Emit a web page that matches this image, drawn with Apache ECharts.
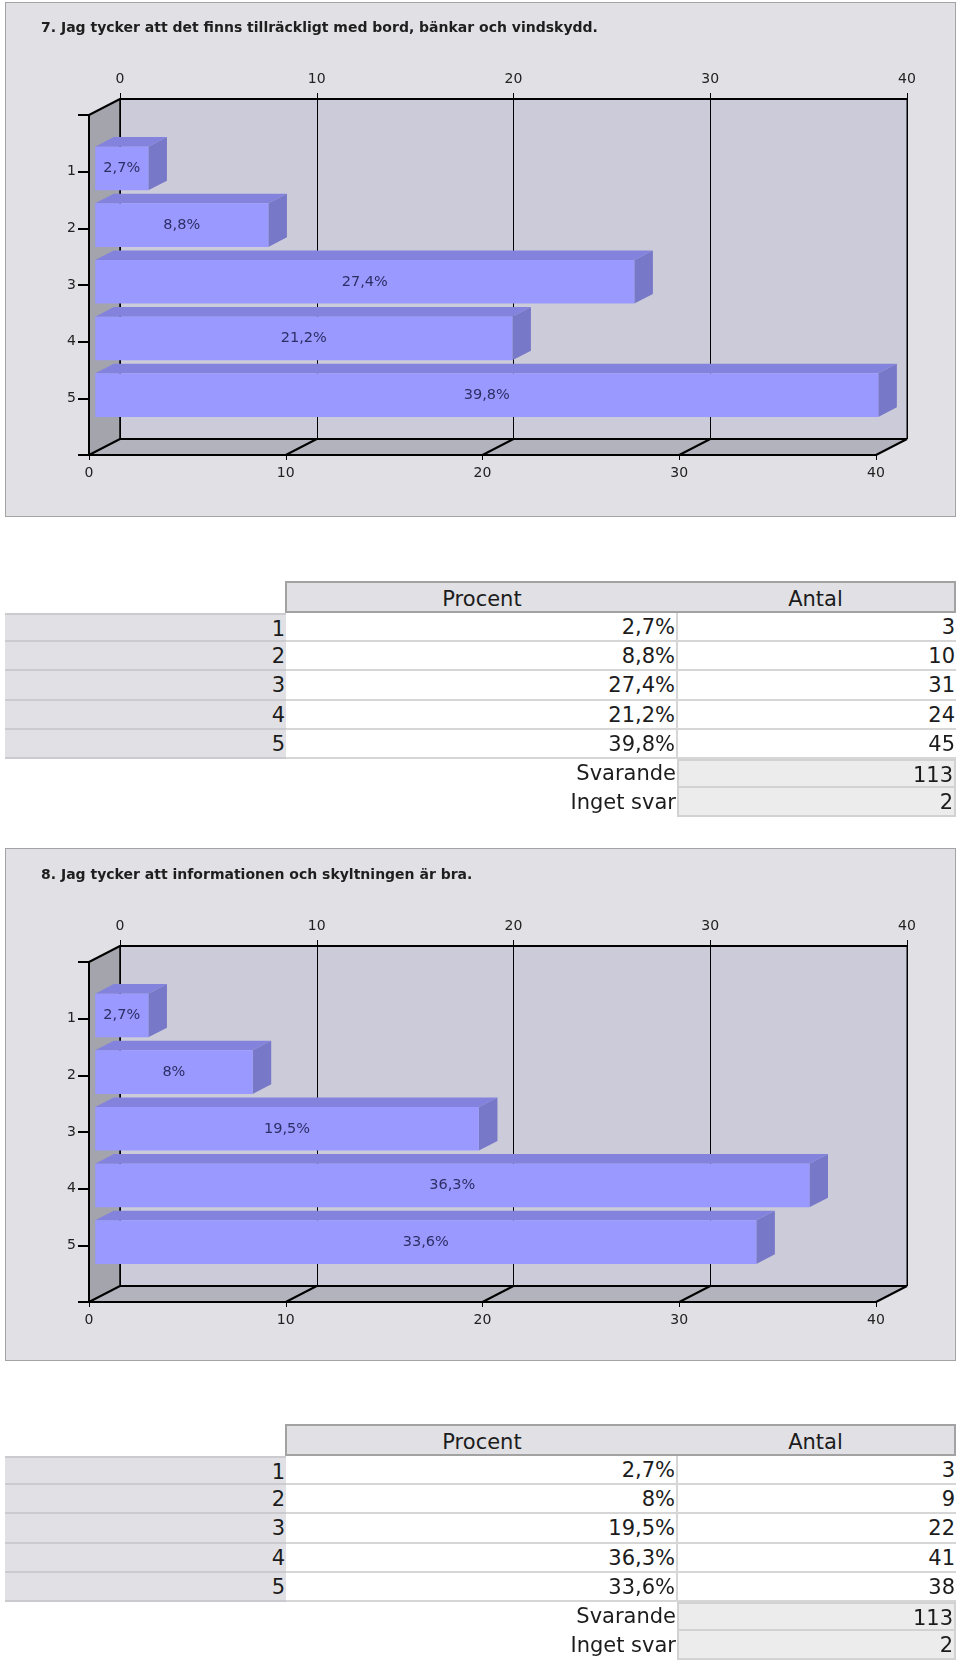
<!DOCTYPE html>
<html><head><meta charset="utf-8">
<script src="https://cdn.jsdelivr.net/npm/echarts@6/dist/echarts.min.js"></script>
<style>
html,body{margin:0;padding:0;background:#fff;}
#wrap{position:relative;width:960px;height:1664px;overflow:hidden;}
#panels,#tables{position:absolute;left:0;top:0;width:960px;height:1664px;}
#chart{position:absolute;left:0;top:0;width:960px;height:1664px;}
.panel{position:absolute;box-sizing:border-box;background:#e0e0e5;border:1px solid #a3a3a3;}
.cell{position:absolute;box-sizing:border-box;font-family:'DejaVu Sans',Verdana,sans-serif;font-size:21px;color:#1c1c1c;text-align:right;white-space:nowrap;padding-right:1px;}
</style></head><body>
<div id="wrap"><div id="panels"></div><div id="chart"></div><div id="tables"></div></div>
<script>
// ---- data ----
const categories = ['1', '2', '3', '4', '5'];
const xTicks = [0, 10, 20, 30, 40];
const titles = [
  '7. Jag tycker att det finns tillräckligt med bord, bänkar och vindskydd.',
  '8. Jag tycker att informationen och skyltningen är bra.'
];
const percent7 = [2.7, 8.8, 27.4, 21.2, 39.8];
const count7 = [3, 10, 31, 24, 45];
const answered7 = 113;
const noAnswer7 = 2;
const percent8 = [2.7, 8, 19.5, 36.3, 33.6];
const count8 = [3, 9, 22, 41, 38];
const answered8 = 113;
const noAnswer8 = 2;
const tableHeaders = ['Procent', 'Antal'];
const summaryLabels = ['Svarande', 'Inget svar'];

// ---- layout ----
const FONT = "'DejaVu Sans', Verdana, sans-serif";
const DX = 31, DY = -16;          // depth of the 3D box
const F1 = 0.2, F2 = 0.8, BAR = 0.77;
const blocks = [
  { oy: 0, panelTop: 2, panelH: 515, tableTop: 581, pct: percent7, cnt: count7, ans: answered7, none: noAnswer7, title: titles[0] },
  { oy: 847, panelTop: 848, panelH: 513, tableTop: 1424, pct: percent8, cnt: count8, ans: answered8, none: noAnswer8, title: titles[1] }
];
const fmt = v => String(v).replace('.', ',') + '%';

// panels (background boxes)
const panels = document.getElementById('panels');
blocks.forEach(b => {
  const d = document.createElement('div');
  d.className = 'panel';
  d.style.cssText = `left:5px;top:${b.panelTop}px;width:951px;height:${b.panelH}px;`;
  panels.appendChild(d);
});

// ---- chart ----
const chart = echarts.init(document.getElementById('chart'), null, { renderer: 'canvas' });
const option = { backgroundColor: 'transparent', animation: false, title: [], grid: [], xAxis: [], yAxis: [], series: [] };
const yMax = categories.length + 1;

blocks.forEach((b, k) => {
  const fl = 89, ft = 115 + b.oy, W = 787, H = 340;
  option.title.push({ text: b.title, left: 36, top: 16 + b.oy,
    textStyle: { fontFamily: FONT, fontWeight: 'bold', fontSize: 14, color: '#1e1e1e' } });
  option.grid.push({ left: fl, top: ft, width: W, height: H });
  option.grid.push({ left: fl + DX, top: ft + DY, width: W, height: H, show: true,
    backgroundColor: '#cbcbd9', borderColor: '#000', borderWidth: 1 });
  const gi = 2 * k;
  const lab = { fontFamily: FONT, fontSize: 14, color: '#222' };
  option.xAxis.push({ gridIndex: gi, type: 'value', min: xTicks[0], max: xTicks[xTicks.length - 1], interval: xTicks[1] - xTicks[0],
    position: 'bottom', z: 10,
    axisLine: { show: true, onZero: false, lineStyle: { color: '#000', width: 2 } },
    axisTick: { show: true, length: 5, lineStyle: { color: '#000', width: 1 } },
    splitLine: { show: false },
    axisLabel: Object.assign({ margin: 11 }, lab) });
  option.yAxis.push({ gridIndex: gi, type: 'value', inverse: true, min: 0, max: yMax, interval: 1, z: 10,
    axisLine: { show: true, onZero: false, lineStyle: { color: '#000', width: 2 } },
    axisTick: { show: true, length: 11, lineStyle: { color: '#000', width: 2 } },
    splitLine: { show: false },
    axisLabel: Object.assign({ margin: 13, formatter: v => categories[v - 1] || '' }, lab) });
  option.xAxis.push({ gridIndex: gi + 1, type: 'value', min: xTicks[0], max: xTicks[xTicks.length - 1], interval: xTicks[1] - xTicks[0],
    position: 'top',
    axisLine: { show: true, onZero: false, lineStyle: { color: '#000', width: 2 } },
    axisTick: { show: true, length: 6, lineStyle: { color: '#000', width: 1 } },
    splitLine: { show: true, lineStyle: { color: '#000', width: 1 } },
    axisLabel: Object.assign({ margin: 13 }, lab) });
  option.yAxis.push({ gridIndex: gi + 1, type: 'value', min: 0, max: yMax, show: false });

  // walls + floor of the 3D box
  option.series.push({ type: 'custom', xAxisIndex: gi, yAxisIndex: gi, z: 1, clip: false, silent: true,
    data: [[0, 0]],
    renderItem: (params, api) => {
      const A = api.coord([xTicks[0], 0]);
      const B = api.coord([xTicks[0], yMax]);
      const C = api.coord([xTicks[xTicks.length - 1], yMax]);
      const sh = p => [p[0] + DX, p[1] + DY];
      const ln = (p, q, w) => ({ type: 'line', shape: { x1: p[0], y1: p[1], x2: q[0], y2: q[1] }, style: { stroke: '#000', lineWidth: w } });
      const ch = [
        { type: 'polygon', shape: { points: [A, sh(A), sh(B), B] }, style: { fill: '#a4a4ac' } },
        { type: 'polygon', shape: { points: [B, sh(B), sh(C), C] }, style: { fill: '#b3b3bd' } },
        ln(A, sh(A), 2), ln(sh(A), sh(B), 1.5), ln(sh(B), sh(C), 2)
      ];
      xTicks.forEach(t => { const P = api.coord([t, yMax]); ch.push(ln(P, sh(P), 2)); });
      return { type: 'group', children: ch };
    } });

  // bars
  option.series.push({ type: 'custom', xAxisIndex: gi, yAxisIndex: gi, z: 3, clip: false, silent: true,
    data: b.pct.map((v, i) => [v, i + 1]),
    renderItem: (params, api) => {
      const v = api.value(0), c = api.value(1);
      const p0 = api.coord([0, c]), p1 = api.coord([v, c]);
      const h = api.size([0, 1])[1] * BAR;
      const ox = DX * F1, oy = DY * F1, dx = DX * (F2 - F1), dy = DY * (F2 - F1);
      const xl = p0[0] + ox, xr = p1[0] + ox, yt = p0[1] + oy - h / 2, yb = yt + h;
      return { type: 'group', children: [
        { type: 'polygon', shape: { points: [[xl, yt], [xl + dx, yt + dy], [xr + dx, yt + dy], [xr, yt]] }, style: { fill: '#8383dd' } },
        { type: 'polygon', shape: { points: [[xr, yt], [xr + dx, yt + dy], [xr + dx, yb + dy], [xr, yb]] }, style: { fill: '#7878c9' } },
        { type: 'rect', shape: { x: xl, y: yt, width: xr - xl, height: h }, style: { fill: '#9999ff' } },
        { type: 'text', x: (xl + xr) / 2, y: (yt + yb) / 2, style: { text: fmt(v), fill: '#2e2e66', font: '14.5px ' + FONT, align: 'center', verticalAlign: 'middle' } }
      ] };
    } });
});
chart.setOption(option);

// ---- tables ----
const tables = document.getElementById('tables');
function cell(left, top, w, h, text, css) {
  const d = document.createElement('div');
  d.className = 'cell';
  d.style.cssText = `left:${left}px;top:${top}px;width:${w}px;height:${h}px;line-height:${h}px;` + (css || '');
  d.textContent = text;
  tables.appendChild(d);
}
const RH = 29.2, HH = 32;
blocks.forEach(b => {
  const t = b.tableTop;
  cell(285, t, 394, HH, tableHeaders[0], 'background:#e1e1e5;border:2px solid #a2a2a2;text-align:center;padding:0;');
  cell(677, t, 279, HH, tableHeaders[1], 'background:#e1e1e5;border:2px solid #a2a2a2;border-left:none;text-align:center;padding:0;');
  categories.forEach((c, i) => {
    const y = t + HH + i * RH;
    cell(5, y, 281, RH, c, 'background:#e1e1e5;border-bottom:2px solid #cbcbcf;border-top:' + (i === 0 ? '2px solid #cbcbcf' : 'none') + ';');
    cell(286, y, 392, RH, fmt(b.pct[i]), 'background:#fff;border-bottom:2px solid #d6d6d6;border-right:2px solid #d6d6d6;');
    cell(678, y, 278, RH, String(b.cnt[i]), 'background:#fff;border-bottom:2px solid #d6d6d6;');
  });
  const sumVals = [b.ans, b.none];
  summaryLabels.forEach((s, j) => {
    const y = t + HH + categories.length * RH + j * RH;
    cell(285, y, 392, RH, s, '');
    cell(677, y, 279, RH, String(sumVals[j]), 'background:#ececec;border:2px solid #d2d2d2;' + (j > 0 ? 'border-top:none;' : ''));
  });
});
</script>
</body></html>
